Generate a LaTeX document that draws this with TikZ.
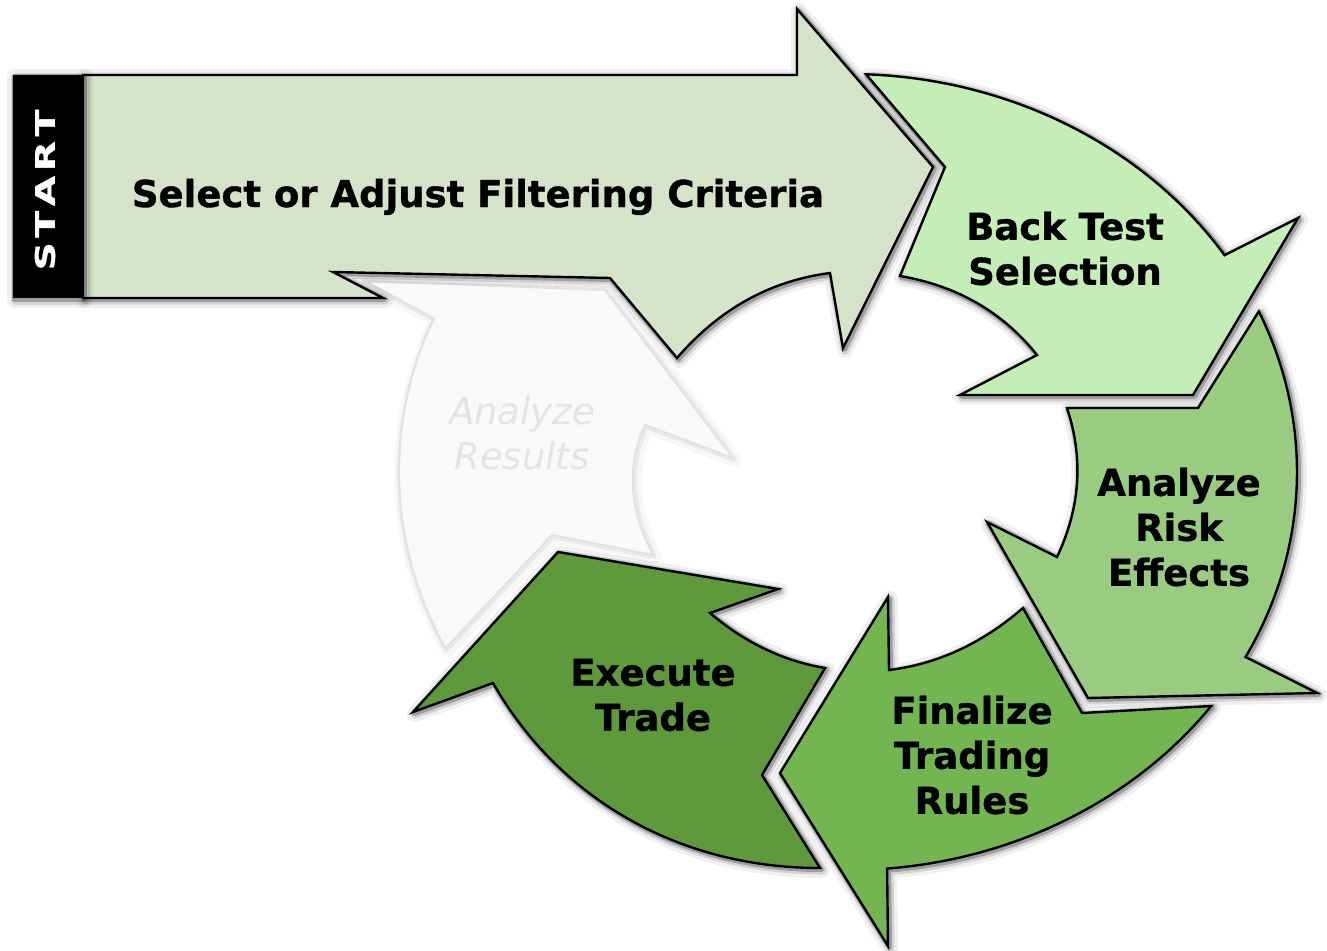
\documentclass[tikz,border=0pt]{standalone}
\usepackage{graphicx}
\usepackage{fontspec}
\setmainfont{DejaVu Sans}
\definecolor{bigC}{RGB}{213,227,201}
\definecolor{btC}{RGB}{197,237,183}
\definecolor{riskC}{RGB}{153,203,128}
\definecolor{finC}{RGB}{115,182,81}
\definecolor{exeC}{RGB}{94,154,60}
\definecolor{resFill}{RGB}{249,249,249}
\definecolor{resLine}{RGB}{226,226,226}
\definecolor{resText}{RGB}{228,228,228}
\tikzset{
  body/.style={draw=black, line width=2.4pt, line join=miter},
  shA/.style={draw=black, opacity=0.06, line width=16pt, line join=round, shift={(2,2)}},
  shB/.style={draw=black, opacity=0.12, line width=9pt, line join=round, shift={(2,2)}},
  shC/.style={draw=black, opacity=0.25, line width=5pt, line join=round, shift={(1.5,1.5)}},
  lshA/.style={draw=black, opacity=0.03, line width=14pt, line join=round, shift={(2,2)}},
  lshB/.style={draw=black, opacity=0.05, line width=6pt, line join=round, shift={(1,1)}},
  lab/.style={font=\fontsize{37}{45}\selectfont\bfseries\addfontfeature{FakeBold=1}, text=black, inner sep=0pt},
  ghost/.style={font=\fontsize{37}{45}\selectfont\itshape, text=resText, inner sep=0pt},
}
\newcommand\shapeRes[1]{\path[#1] (365,281) -- (605,290) -- (733,458) -- (645,425) .. controls (626.3,465.7) and (629,509) .. (653,555) -- (552,535) -- (445.5,648.3) arc[start angle=153.7, end angle=202.7, x radius=449, y radius=398] -- cycle;}
\newcommand\shapeExe[1]{\path[#1] (558,552) -- (778,589) -- (710,613) .. controls (745,642.7) and (783.3,661) .. (825,668) -- (762,775) -- (820,868) .. controls (680,868) and (560,800) .. (493,683) -- (413,712) -- cycle;}
\newcommand\shapeFin[1]{\path[#1] (780,773) -- (888,597) -- (889,670) .. controls (937.7,664) and (982.3,643.3) .. (1023,608) -- (1082,713) -- (1211.2,706) arc[start angle=36, end angle=85, x radius=449, y radius=398] -- (888,946) -- cycle;}
\newcommand\shapeRisk[1]{\path[#1] (1067,408) -- (1198,408) -- (1258.8,311.4) arc[start angle=-23.8, end angle=27.7, x radius=449, y radius=398] -- (1317,693) -- (1088,698) -- (987,522) -- (1057,557) .. controls (1080.3,508) and (1083.7,458.3) .. (1067,408) -- cycle;}
\newcommand\shapeBT[1]{\path[#1] (866,74.3) arc[start angle=-87.7, end angle=-33, x radius=449, y radius=398] -- (1298,218) -- (1193,395) -- (960,395) -- (1037,355) .. controls (1002.7,312) and (957,285.7) .. (900,276) -- (945,167) -- cycle;}
\newcommand\shapeBig[1]{\path[#1] (83,75) -- (797,75) -- (797,9) -- (933,167) -- (843,348) -- (830,273) .. controls (770.3,280.7) and (719.3,309) .. (677,358) -- (610,278) -- (333,272) -- (383,298) -- (83,298) -- cycle;}
\newcommand\shapeStart[1]{\path[#1] (13,75) rectangle (83,298);}
\newcommand\withshadow[1]{#1{shA}#1{shB}#1{shC}}
\begin{document}
\begin{tikzpicture}[x=1pt,y=-1pt]
\useasboundingbox (0,0) rectangle (1327,950);
% Analyze Results (faded)
\shapeRes{lshA}\shapeRes{lshB}
\shapeRes{fill=resFill, draw=resLine, line width=2pt}
% Execute Trade
\withshadow\shapeExe
\shapeExe{body, fill=exeC}
% Finalize Trading Rules
\withshadow\shapeFin
\shapeFin{body, fill=finC}
% Analyze Risk Effects
\withshadow\shapeRisk
\shapeRisk{body, fill=riskC}
% Back Test Selection
\withshadow\shapeBT
\shapeBT{body, fill=btC}
% Select or Adjust Filtering Criteria
\withshadow\shapeBig
\shapeBig{body, fill=bigC}
% START bar
\withshadow\shapeStart
\shapeStart{fill=black}
% texts
\node[text=white, font=\fontsize{27}{27}\selectfont\bfseries\addfontfeature{FakeBold=1}, rotate=90, inner sep=0pt] (tStart) at (45,190) {\scalebox{1.45}[1]{S\kern3.2pt T\kern3.2pt A\kern3.2pt R\kern3.2pt T}};
\node[lab, anchor=base] (tSel) at (478,207) {Select or Adjust Filtering Criteria};
\node[lab, align=center] (tBT) at (1065,248.5) {Back Test\\Selection};
\node[lab, align=center] (tRisk) at (1179,527) {Analyze\\Risk\\Effects};
\node[lab, align=center] (tFin) at (972,755) {Finalize\\Trading\\Rules};
\node[lab, align=center] (tExe) at (653,695) {Execute\\Trade};
\node[ghost, align=center] (tRes) at (522,433) {Analyze\\Results};
\end{tikzpicture}
\end{document}
